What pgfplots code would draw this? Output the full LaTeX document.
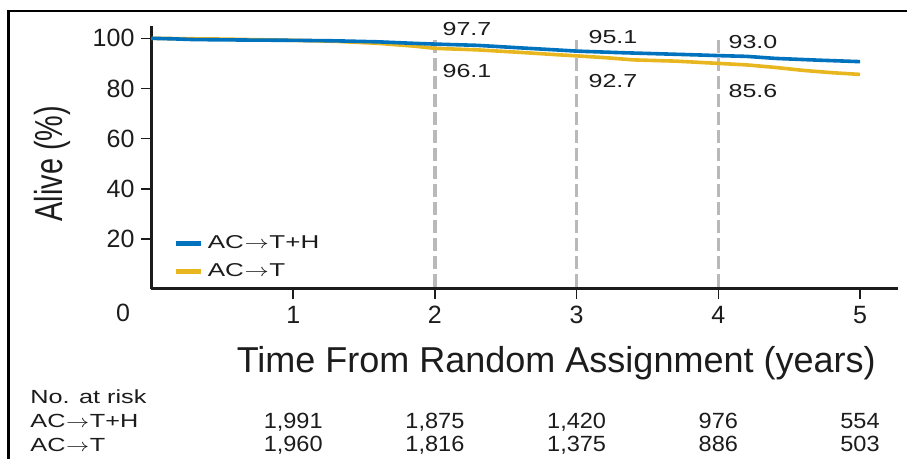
\documentclass[border=0pt]{standalone}
\usepackage{fontspec}
\setmainfont{Liberation Sans}
\newfontfamily\widefont[FakeStretch=1.33]{Liberation Sans}
\newfontfamily\narrowfont[FakeStretch=0.74]{Liberation Sans}
\newfontfamily\numfont[FakeStretch=1.07]{Liberation Sans}
\usepackage{pgfplots}
\pgfplotsset{compat=1.18}

\definecolor{armblue}{RGB}{0,114,190}
\definecolor{armyellow}{RGB}{232,182,30}
\definecolor{guide}{RGB}{185,185,185}
\definecolor{ink}{RGB}{28,28,28}

% long thin arrow as in the source figure
\newcommand\arr{\kern0.3pt\scalebox{1.25}[1]{$\rightarrow$}\kern0.3pt}
\newcommand\legfont{\widefont\fontsize{9.3}{11}\selectfont}
\newcommand\legtext[1]{\scalebox{1.05}[1]{\legfont #1}}

\tikzset{
  risk/.style={anchor=base, inner sep=0pt, text=ink,
    font=\numfont\fontsize{11}{13}\selectfont},
  armlabel/.style={anchor=base west, inner sep=0pt, text=ink,
    font=\widefont\fontsize{9.5}{11}\selectfont},
  pct/.style={anchor=base west, inner sep=0pt, text=ink,
    font=\widefont\fontsize{9.4}{10}\selectfont},
}

\begin{document}
\begin{tikzpicture}
\useasboundingbox (-75.75pt,-85pt) rectangle (377.75pt,144.5pt);
\draw[line width=1.2pt] (-71.4pt,139pt) rectangle (420pt,-120pt);
\begin{axis}[
  scale only axis,
  width=373.4pt, height=131.6pt,
  xmin=0, xmax=5.27, ymin=0, ymax=105,
  axis lines=left,
  axis line style={-, line width=1.5pt, ink},
  xtick={1,2,3,4,5},
  ytick={20,40,60,80,100},
  tick align=outside,
  major tick length=5pt,
  tick style={line width=0.8pt, ink},
  tick label style={font=\fontsize{12.5}{14}\selectfont, text=ink},
  /pgf/number format/assume math mode=true,
  clip=false,
  reverse legend,
  legend cell align=left,
  legend style={at={(axis cs:0.155,23.2)}, anchor=north west, draw=none,
    fill=none, inner sep=0pt, row sep=2pt, font=\legfont, text=ink},
  legend image code/.code={\draw[#1, line width=2.5pt] (0pt,0pt) -- (12.5pt,0pt);},
]
% year markers
\addplot[guide, line width=1.6pt, dash pattern=on 6.5pt off 2.5pt, forget plot]
  coordinates {(2,99.2) (2,0)};
\addplot[guide, line width=1.6pt, dash pattern=on 6.5pt off 2.5pt, forget plot]
  coordinates {(3,99.2) (3,0)};
\addplot[guide, line width=1.6pt, dash pattern=on 6.5pt off 2.5pt, forget plot]
  coordinates {(4,99.2) (4,0)};

\addplot[armyellow, line width=1.8pt] coordinates {
  (0,100) (0.5,99.7) (1,99.2) (1.3,98.8) (1.6,98.0) (1.85,96.9) (2,96.0)
  (2.3,95.4) (2.6,94.4) (2.85,93.5) (3,93.0) (3.2,92.3) (3.4,91.4)
  (3.7,90.9) (4,90.0) (4.2,89.4) (4.4,88.4) (4.6,87.2) (4.8,86.3) (5,85.6)
};
\addlegendentry{\legtext{AC\arr T}}
\addplot[armblue, line width=1.8pt] coordinates {
  (0,100) (0.15,99.8) (0.3,99.5) (0.7,99.3) (1,99.2) (1.3,99.0) (1.6,98.6)
  (1.85,98.0) (2,97.7) (2.3,97.2) (2.6,96.2) (2.85,95.4) (3,94.9) (3.3,94.3)
  (3.6,93.8) (3.9,93.3) (4,93.1) (4.2,92.8) (4.4,92.0) (4.7,91.3) (5,90.7)
};
\addlegendentry{\legtext{AC\arr T+H}}

% survival figures at 2, 3, 4 years
\node[pct] at (axis cs:2.052,101.2) {97.7};
\node[pct] at (axis cs:2.052,84.5) {96.1};
\node[pct] at (axis cs:3.082,98.1) {95.1};
\node[pct] at (axis cs:3.082,80.5) {92.7};
\node[pct] at (axis cs:4.07,96.0) {93.0};
\node[pct] at (axis cs:4.07,76.5) {85.6};

\node[text=ink, font=\fontsize{12.5}{14}\selectfont] at (axis cs:-0.2,-9.6) {0};
\node[anchor=base, inner sep=0pt, text=ink, font=\fontsize{18}{20}\selectfont]
  at (axis cs:2.856,-33.5) {Time From Random Assignment (years)};
\node[rotate=90, anchor=base, inner sep=0pt, text=ink,
  font=\narrowfont\fontsize{19.5}{22}\selectfont]
  at (axis cs:-0.628,50) {Alive (\%)};

% number at risk
\node[armlabel] at (axis cs:-0.857,-45.5) {No. at risk};
\node[armlabel] at (axis cs:-0.857,-55.4) {AC\arr T+H};
\node[armlabel] at (axis cs:-0.857,-65.0) {AC\arr T};
\node[risk] at (axis cs:1,-55.8) {1,991};
\node[risk] at (axis cs:2,-55.8) {1,875};
\node[risk] at (axis cs:3,-55.8) {1,420};
\node[risk] at (axis cs:4,-55.8) {976};
\node[risk] at (axis cs:5,-55.8) {554};
\node[risk] at (axis cs:1,-65.0) {1,960};
\node[risk] at (axis cs:2,-65.0) {1,816};
\node[risk] at (axis cs:3,-65.0) {1,375};
\node[risk] at (axis cs:4,-65.0) {886};
\node[risk] at (axis cs:5,-65.0) {503};
\end{axis}
\end{tikzpicture}
\end{document}
